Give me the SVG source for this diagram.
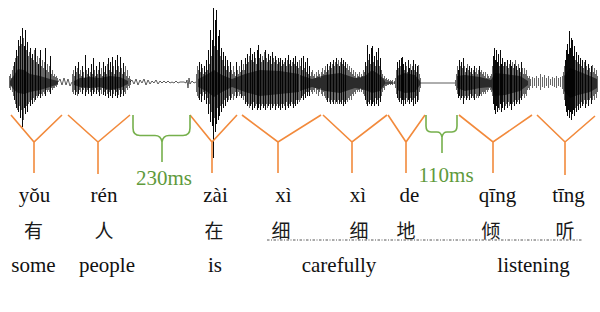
<svg xmlns="http://www.w3.org/2000/svg" width="600" height="312" viewBox="0 0 600 312">
<style>
.spk{fill:none;stroke:#000;stroke-width:0.6}
.acc{fill:none;stroke:#000;stroke-width:0.9}
.core{fill:#6a6a6a;stroke:none}
.noise{fill:none;stroke:#333;stroke-width:0.8}
.y{fill:none;stroke:#f28a3c;stroke-width:1.6;stroke-linejoin:miter}
.br{fill:none;stroke:#76b04c;stroke-width:1.6}
.py,.en{font-family:"Liberation Serif","Times New Roman",serif;font-size:21px;fill:#111;text-anchor:middle}
.zh{font-family:"Noto Sans CJK SC",sans-serif;font-weight:400;font-size:19px;fill:#1a1a1a;text-anchor:middle}
.ms{font-family:"Liberation Serif","Times New Roman",serif;font-size:21px;fill:#5f9a3c;text-anchor:middle}
.dot{stroke:#444;stroke-width:0.9;stroke-dasharray:2.5,1.5,1,1.5;fill:none}
</style>
<rect width="600" height="312" fill="#fff"/>
<g id="waveform">
<path class="core" d="M10,81 L14,75 L18,69 L24,70 L30,74 L40,76 L50,79 L58,81 L58,84 L50,87 L40,90 L30,92 L24,94 L18,93 L14,90 L10,85Z M74,81 L80,78 L90,77 L100,78 L110,76 L120,77 L128,81 L128,84 L120,88 L110,90 L100,87 L90,88 L80,87 L74,85Z M198,79 L206,75 L214,70 L222,75 L232,79 L245,74 L260,70 L280,71 L299,74 L299,92 L280,94 L260,96 L245,92 L232,87 L222,92 L214,97 L206,91 L198,87Z M300,75 L312,79 L325,75 L340,73 L355,78 L365,76 L372,70 L380,75 L385,81 L385,84 L380,91 L372,93 L365,90 L355,88 L340,93 L325,91 L312,87 L300,91Z M397,76 L405,73 L415,75 L420,81 L420,85 L415,92 L405,93 L397,90Z M457,76 L465,75 L480,77 L491,80 L495,73 L505,74 L520,76 L528,81 L528,85 L520,91 L505,95 L495,96 L491,87 L480,88 L465,91 L457,88Z M564,76 L570,68 L578,71 L590,76 L597,79 L597,88 L590,92 L578,95 L570,98 L564,91Z"/>
<path class="noise" d="M58,82 L60,79 L62,85 L64,78 L66,85 L68,79 L70,86 L72,82 M130,82 L132,80 L134,84 L136,79 L138,85 L140,80 L142,83 L144,79 L146,85 L148,80 L150,84 L152,81 L154,83 L156,80 L158,84 L160,81 L162,83 L164,81 L166,83 L168,81 L170,83 L172,82 L174,83 L176,81 L178,83 L180,82 L184,82 L186,83 L187,80 L188,88 L189,78 L190,84 L192,81 L194,83 L196,82 M420,83 L455,83 M385,83 L395,83"/>
<g transform="translate(0.5,0)">
<path class="spk" d="M9,76V88 M10,74V90 M11,78V86 M12,70V92 M13,66V96 M14,62V100 M15,58V104 M16,50V108 M17,56V110 M18,40V112 M19,46V106 M20,36V118 M21,44V110 M22,28V127 M23,38V120 M24,46V108 M25,30V114 M26,50V106 M27,42V112 M28,56V104 M29,52V102 M30,48V106 M31,58V100 M32,54V104 M33,60V98 M34,50V102 M35,48V100 M36,62V96 M37,56V98 M38,64V96 M39,58V94 M40,50V98 M41,66V94 M42,60V96 M43,68V92 M44,62V94 M45,48V96 M46,70V90 M47,64V92 M48,72V90 M49,66V92 M50,56V94 M51,74V88 M52,70V90 M53,76V88 M54,74V88 M55,77V86 M56,76V87 M57,78V85
M72,74V92 M73,70V94 M74,76V90 M75,66V95 M76,72V92 M77,68V96 M78,62V94 M79,74V90 M80,70V92 M81,76V88 M82,66V94 M83,72V90 M84,78V88 M85,55V96 M86,70V92 M87,74V90 M88,68V94 M89,76V88 M90,72V92 M91,64V96 M92,74V90 M93,58V94 M94,70V92 M95,76V88 M96,66V94 M97,74V90 M98,70V92 M99,62V96 M100,74V90 M101,68V94 M102,76V88 M103,62V95 M104,72V92 M105,66V96 M106,74V90 M107,64V94 M108,58V98 M109,70V92 M110,62V96 M111,72V90 M112,57V98 M113,66V94 M114,74V90 M115,60V96 M116,70V92 M117,55V98 M118,66V95 M119,72V90 M120,57V97 M121,68V94 M122,74V90 M123,63V96 M124,72V92 M125,66V94 M126,76V88 M127,70V90 M128,78V86 M129,76V88 M130,79V85
M196,74V92 M197,66V96 M198,70V98 M199,62V100 M200,72V94 M201,64V102 M202,68V96 M203,74V92 M204,66V100 M205,72V94 M206,60V104 M207,70V98 M208,50V114 M209,64V104 M210,30V122 M211,56V112 M212,40V126 M213,8V158 M214,46V118 M215,20V132 M216,10V124 M217,50V108 M218,36V120 M219,30V116 M220,56V106 M221,48V112 M222,60V104 M223,52V108 M224,66V100 M225,56V106 M226,70V98 M227,60V102 M228,66V100 M229,72V96 M230,62V100 M231,70V98 M232,74V94 M233,66V100 M234,72V96 M235,76V92 M236,62V98 M237,70V96 M238,74V92 M239,66V96 M240,72V94 M241,60V98 M242,70V96 M243,64V100 M244,70V96 M245,58V104 M246,64V102 M247,54V106 M248,62V104 M249,56V108 M250,48V106 M251,60V104 M252,54V110 M253,62V102 M254,52V108 M255,58V106 M256,64V104 M257,50V110 M258,45V108 M259,58V104 M260,54V110 M261,62V106 M262,56V104 M263,60V108 M264,52V106 M265,50V110 M266,58V104 M267,62V108 M268,54V106 M269,60V104 M270,56V110 M271,64V104 M272,52V108 M273,58V106 M274,62V104 M275,56V110 M276,60V106 M277,64V104 M278,58V108 M279,62V106 M280,58V110 M281,66V104 M282,60V108 M283,64V104 M284,62V106 M285,58V110 M286,66V102 M287,60V106 M288,55V108 M289,64V104 M290,60V106 M291,66V102 M292,62V104 M293,58V108 M294,64V104 M295,56V106 M296,66V100 M297,62V104 M298,68V100 M299,60V102
M300,66V100 M301,58V98 M302,70V96 M303,56V100 M304,68V94 M305,62V98 M306,72V92 M307,58V96 M308,74V92 M309,66V96 M310,76V90 M311,72V92 M312,70V94 M313,76V90 M314,74V92 M315,78V88 M316,72V94 M317,76V90 M318,70V96 M319,74V92 M320,78V88 M321,72V94 M322,68V96 M323,74V92 M324,70V96 M325,66V98 M326,72V100 M327,64V102 M328,70V98 M329,66V102 M330,62V104 M331,68V100 M332,64V102 M333,60V104 M334,66V100 M335,62V104 M336,58V102 M337,64V104 M338,60V100 M339,66V104 M340,62V102 M341,58V104 M342,64V100 M343,60V106 M344,66V102 M345,62V104 M346,68V100 M347,64V102 M348,70V98 M349,66V100 M350,72V96 M351,68V100 M352,74V94 M353,70V96 M354,76V92 M355,72V94 M356,78V90 M357,74V92 M358,76V90 M359,72V92 M360,78V88 M361,74V92 M362,76V90 M363,70V94 M364,72V96 M365,62V100 M366,66V104 M367,45V106 M368,60V102 M369,54V104 M370,64V100 M371,48V106 M372,46V104 M373,62V102 M374,56V106 M375,66V98 M376,52V104 M377,60V100 M378,48V106 M379,66V98 M380,58V102 M381,70V96 M382,74V92 M383,78V88 M384,76V90 M385,79V86 M386,78V86 M387,80V85 M388,79V85 M389,81V84 M390,80V85 M391,81V84 M392,80V85 M394,81V84 M395,78V88 M396,70V94 M397,62V98 M398,68V100 M399,60V102 M400,66V98 M401,58V104 M402,57V100 M403,64V106 M404,70V100 M405,62V104 M406,66V98 M407,72V102 M408,60V100 M409,68V104 M410,64V98 M411,70V102 M412,66V100 M413,60V106 M414,70V98 M415,64V104 M416,72V96 M417,66V102 M418,65V100 M419,74V92 M420,78V88
M455,80V86 M456,74V90 M457,66V94 M458,70V98 M459,60V96 M460,66V100 M461,62V98 M462,68V96 M463,58V104 M464,66V98 M465,72V96 M466,68V100 M467,64V98 M468,70V96 M469,66V100 M470,72V94 M471,68V98 M472,74V96 M473,70V98 M474,66V100 M475,72V94 M476,68V98 M477,74V96 M478,70V98 M479,66V96 M480,72V94 M481,70V96 M482,74V92 M483,72V94 M484,76V92 M485,72V94 M486,78V90 M487,74V92 M488,76V90 M489,78V88 M490,76V90 M491,74V92 M492,66V96 M493,56V104 M494,48V110 M495,60V114 M496,50V106 M497,62V112 M498,54V108 M499,66V110 M500,50V104 M501,64V112 M502,58V108 M503,66V102 M504,62V110 M505,62V106 M506,66V104 M507,60V108 M508,68V102 M509,64V106 M510,60V104 M511,66V110 M512,62V104 M513,68V102 M514,64V106 M515,60V100 M516,66V104 M517,70V102 M518,64V100 M519,68V104 M520,72V98 M521,62V100 M522,68V96 M523,74V94 M524,68V98 M525,74V94 M526,70V96 M527,76V90 M528,78V88 M529,76V90
M530,79V86 M532,77V88 M534,78V86 M536,76V88 M538,78V86 M540,74V90 M542,77V87 M544,75V88 M546,78V86 M548,76V88 M550,79V85 M552,77V86 M554,78V87 M556,76V88 M558,78V86 M560,77V87 M562,76V89
M563,72V94 M564,66V100 M565,60V106 M566,50V112 M567,44V116 M568,54V110 M569,31V118 M570,48V112 M571,38V120 M572,40V114 M573,56V110 M574,46V116 M575,60V108 M576,52V112 M577,62V106 M578,55V110 M579,64V104 M580,58V108 M581,66V102 M582,60V106 M583,68V104 M584,62V100 M585,60V108 M586,66V104 M587,70V100 M588,64V106 M589,68V100 M590,72V98 M591,66V104 M592,65V100 M593,72V96 M594,68V100 M595,74V94 M596,70V98 M597,76V92"/>
<path class="acc" d="M14,62V100 M16,50V108 M18,40V112 M20,36V118 M22,28V127 M24,46V108 M25,30V114 M27,42V112 M30,48V106 M32,54V104 M35,48V100 M38,64V96 M40,50V98 M45,48V96 M50,56V94
M75,66V95 M78,62V94 M82,66V94 M85,55V96 M88,68V94 M91,64V96 M93,58V94 M96,66V94 M99,62V96 M103,62V95 M105,66V96 M108,58V98 M110,62V96 M112,57V98 M115,60V96 M117,55V98 M120,57V97 M123,63V96
M199,62V100 M201,64V102 M204,66V100 M206,60V104 M208,50V114 M210,30V122 M212,40V126 M213,8V158 M215,20V132 M216,10V124 M218,36V120 M219,30V116 M221,48V112 M223,52V108 M225,56V106 M227,60V102 M230,62V100 M236,62V98 M241,60V98 M245,58V104 M247,54V106 M250,48V106 M252,54V110 M254,52V108 M257,50V110 M258,45V108 M260,54V110 M263,60V108 M265,50V110 M268,54V106 M270,56V110 M272,52V108 M275,56V110 M278,58V108 M280,58V110 M282,60V108 M285,58V110 M288,55V108 M290,60V106 M293,58V108 M295,56V106 M297,62V104
M301,58V98 M303,56V100 M305,62V98 M307,58V96 M309,66V96 M327,64V102 M330,62V104 M333,60V104 M336,58V102 M339,66V104 M341,58V104 M343,60V106 M345,62V104 M365,62V100 M367,45V106 M369,54V104 M371,48V106 M372,46V104 M374,56V106 M376,52V104 M378,48V106 M380,58V102 M397,62V98 M399,60V102 M401,58V104 M402,57V100 M403,64V106 M405,62V104 M408,60V100 M409,68V104 M411,70V102 M413,60V106 M415,64V104 M417,66V102
M458,70V98 M459,60V96 M461,62V98 M463,58V104 M466,68V100 M469,66V100 M471,68V98 M474,66V100 M479,66V96 M493,56V104 M494,48V110 M495,60V114 M496,50V106 M497,62V112 M498,54V108 M500,50V104 M501,64V112 M502,58V108 M504,62V110 M507,60V108 M510,60V104 M511,66V110 M514,64V106 M516,66V104 M519,68V104 M521,62V100
M565,60V106 M566,50V112 M567,44V116 M568,54V110 M569,31V118 M570,48V112 M571,38V120 M572,40V114 M573,56V110 M574,46V116 M576,52V112 M578,55V110 M580,58V108 M582,60V106 M585,60V108 M588,64V106 M591,66V104"/>
</g>
</g>
<g id="connectors">
<path class="y" d="M11,115 L34,142 L62,115 M34,142 V173"/>
<path class="y" d="M68,115 L98,142 L130,115 M98,142 V174"/>
<path class="y" d="M190,115 L212,142 L237,115 M212,142 V173"/>
<path class="y" d="M242,115 L278,142 L321,115 M278,142 V173"/>
<path class="y" d="M323,115 L352,142 L387,115 M352,142 V173"/>
<path class="y" d="M388,115 L406,142 L425,115 M406,142 V173"/>
<path class="y" d="M459,115 L493,142 L532,115 M493,142 V173"/>
<path class="y" d="M537,115 L565,142 L595,116 M565,142 V175"/>
<path class="br" d="M133,115 V128 Q133,135.5 140,135.5 H155 Q161,135.5 162,142 Q163,135.5 169,135.5 H183 Q190,135.5 190,128 V115 M162,142 V162"/>
<path class="br" d="M426,115 V126 Q426,132 431,132 H437 Q441,132 442,137 Q443,132 447,132 H452 Q457,132 457,126 V115 M442,137 V153"/>
</g>
<g id="gap-230"><text class="ms" x="164" y="185">230ms</text></g>
<g id="gap-110"><text class="ms" x="446" y="182">110ms</text></g>
<g id="word-you"><text class="py" x="34.5" y="202">yǒu</text><text class="zh" x="33.5" y="237.5">有</text><text class="en" x="33.5" y="272">some</text></g>
<g id="word-ren"><text class="py" x="104" y="202">rén</text><text class="zh" x="104" y="237.5">人</text><text class="en" x="107" y="272">people</text></g>
<g id="word-zai"><text class="py" x="215.5" y="202">zài</text><text class="zh" x="214" y="237.5">在</text><text class="en" x="215" y="272">is</text></g>
<g id="word-xixide"><text class="py" x="283.5" y="202">xì</text><text class="py" x="358" y="202">xì</text><text class="py" x="409.5" y="202">de</text><text class="zh" x="281" y="237.5">细</text><text class="zh" x="359" y="237.5">细</text><text class="zh" x="406" y="237.5">地</text><text class="en" x="339" y="272">carefully</text></g>
<g id="word-qingting"><text class="py" x="497.5" y="202">qīng</text><text class="py" x="568.5" y="202">tīng</text><text class="zh" x="491" y="237.5">倾</text><text class="zh" x="565" y="237.5">听</text><text class="en" x="533.5" y="272">listening</text></g>
<path class="dot" d="M267,240 H583"/>
</svg>
